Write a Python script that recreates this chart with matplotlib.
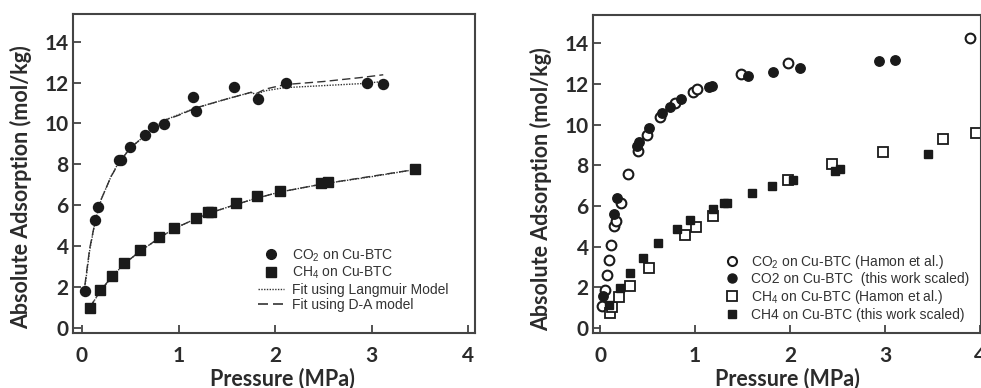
import matplotlib
matplotlib.use("Agg")
import matplotlib.pyplot as plt
from matplotlib.lines import Line2D

plt.rcParams['mathtext.fontset'] = 'custom'
plt.rcParams['mathtext.rm'] = 'Liberation Sans'
plt.rcParams['mathtext.it'] = 'Liberation Sans'

# ---------------- Left panel data ----------------
co2_p = [0.03, 0.14, 0.17, 0.38, 0.40, 0.50, 0.65, 0.74, 0.85, 1.15, 1.18, 1.57, 1.82, 2.11, 2.95, 3.12]
co2_q = [1.79, 5.30, 5.92, 8.23, 8.20, 8.85, 9.45, 9.81, 9.98, 11.30, 10.63, 11.78, 11.20, 11.98, 11.98, 11.95]

ch4_p = [0.08, 0.19, 0.31, 0.44, 0.60, 0.80, 0.95, 1.18, 1.30, 1.34, 1.60, 1.81, 2.05, 2.48, 2.55, 3.45]
ch4_q = [1.00, 1.84, 2.56, 3.18, 3.80, 4.45, 4.89, 5.38, 5.67, 5.67, 6.11, 6.44, 6.68, 7.09, 7.14, 7.78]

co2_fit_p = [0.03, 0.08, 0.14, 0.20, 0.30, 0.38, 0.50, 0.65, 0.75, 0.85, 1.00, 1.18, 1.50, 1.75, 1.80, 1.90, 2.10, 2.50, 2.90, 3.12]
co2_lang_q = [2.0, 3.8, 5.3, 6.3, 7.4, 8.1, 8.8, 9.4, 9.8, 10.15, 10.43, 10.76, 11.2, 11.52, 11.42, 11.6, 11.75, 11.85, 11.95, 12.05]
co2_da_q = [2.1, 3.9, 5.3, 6.3, 7.4, 8.05, 8.8, 9.4, 9.8, 10.15, 10.4, 10.76, 11.2, 11.52, 11.45, 11.68, 11.9, 12.05, 12.25, 12.38]

ch4_fit_p = [0.08, 0.19, 0.31, 0.44, 0.60, 0.80, 0.95, 1.18, 1.34, 1.60, 1.81, 2.05, 2.50, 3.00, 3.45]
ch4_lang_q = [1.00, 1.80, 2.50, 3.15, 3.75, 4.40, 4.85, 5.35, 5.65, 6.05, 6.35, 6.65, 7.05, 7.40, 7.75]
ch4_da_q = [1.00, 1.82, 2.52, 3.15, 3.75, 4.40, 4.85, 5.35, 5.65, 6.05, 6.35, 6.65, 7.05, 7.42, 7.75]

# ---------------- Right panel data ----------------
hco2_p = [0.025, 0.05, 0.07, 0.095, 0.12, 0.15, 0.17, 0.22, 0.29, 0.40, 0.49, 0.63, 0.79, 0.98, 1.02, 1.48, 1.98, 3.89]
hco2_q = [1.10, 1.88, 2.60, 3.36, 4.08, 5.03, 5.29, 6.14, 7.58, 8.73, 9.50, 10.40, 11.05, 11.63, 11.74, 12.49, 13.05, 14.29]

sco2_p = [0.035, 0.15, 0.18, 0.39, 0.41, 0.52, 0.65, 0.74, 0.85, 1.15, 1.18, 1.56, 1.82, 2.11, 2.94, 3.11]
sco2_q = [1.59, 5.60, 6.39, 8.96, 9.17, 9.82, 10.59, 10.89, 11.25, 11.84, 11.92, 12.40, 12.61, 12.80, 13.15, 13.21]

hch4_p = [0.10, 0.13, 0.20, 0.32, 0.52, 0.89, 1.01, 1.19, 1.98, 2.44, 2.98, 3.61, 3.96]
hch4_q = [0.74, 1.06, 1.51, 2.05, 2.98, 4.58, 4.99, 5.49, 7.29, 8.07, 8.65, 9.28, 9.58]

sch4_p = [0.09, 0.21, 0.32, 0.45, 0.61, 0.81, 0.95, 1.19, 1.30, 1.34, 1.60, 1.81, 2.03, 2.47, 2.53, 3.45]
sch4_q = [1.15, 1.96, 2.73, 3.47, 4.18, 4.86, 5.32, 5.85, 6.14, 6.17, 6.66, 6.99, 7.29, 7.75, 7.81, 8.55]

x_ticks = [0, 1, 2, 3, 4]
y_ticks = [0, 2, 4, 6, 8, 10, 12, 14]
xlabel = "Pressure (MPa)"
ylabel = "Absolute Adsorption (mol/kg)"

W, H = 981, 388
fig = plt.figure(figsize=(W / 100, H / 100), dpi=100)

def px_axes(l, t, r, b):
    return fig.add_axes([l / W, 1 - b / H, (r - l) / W, (b - t) / H])

axL = px_axes(73, 14, 475, 333)
axR = px_axes(593, 15, 981, 333)

ink = '#1a1a1a'
spine_c = '#444444'
label_font = dict(family='Lato', weight='bold', size=15.5, color='#2b2b2b')

for ax in (axL, axR):
    for s in ax.spines.values():
        s.set_linewidth(1.5)
        s.set_color(spine_c)
    ax.set_xticks(x_ticks)
    ax.set_yticks(y_ticks)
    ax.tick_params(direction='in', length=6, width=1.3, color=spine_c,
                   labelsize=15, labelcolor='#2b2b2b')
    ax.tick_params(axis='x', pad=9)
    ax.tick_params(axis='y', pad=3)
    for lab in ax.get_xticklabels() + ax.get_yticklabels():
        lab.set_fontfamily('Lato')
        lab.set_fontweight('bold')
    ax.set_xlabel(xlabel, fontdict=label_font)
    ax.set_ylabel(ylabel, fontdict=label_font)

axL.xaxis.set_label_coords(0.522, -0.108)
axL.yaxis.set_label_coords(-0.102, 0.458)
axR.xaxis.set_label_coords(0.5, -0.108)
axR.yaxis.set_label_coords(-0.106, 0.454)

axL.set_xlim(-0.093, 4.07)
axL.set_ylim(-0.24, 15.35)
axR.set_xlim(-0.074, 4.01)
axR.set_ylim(-0.24, 15.4)

# Left panel
axL.plot(co2_fit_p, co2_lang_q, linestyle=(0, (1, 1)), color='#333333', lw=1.0)
axL.plot(co2_fit_p, co2_da_q, linestyle=(0, (6, 3)), color='#333333', lw=1.0)
axL.plot(ch4_fit_p, ch4_lang_q, linestyle=(0, (1, 1)), color='#333333', lw=1.0)
axL.plot(ch4_fit_p, ch4_da_q, linestyle=(0, (6, 3)), color='#333333', lw=1.0)
axL.plot(co2_p, co2_q, 'o', color=ink, ms=7.2, mec=ink)
axL.plot(ch4_p, ch4_q, 's', color=ink, ms=6.5, mec=ink)

leg_font = dict(family='Liberation Sans', size=10)
handlesL = [
    Line2D([], [], marker='o', ls='none', color=ink, ms=7),
    Line2D([], [], marker='s', ls='none', color=ink, ms=6.5),
    Line2D([], [], ls=(0, (1, 1)), color='#333333', lw=1.0),
    Line2D([], [], ls=(0, (6, 3)), color='#333333', lw=1.2),
]
labelsL = ["CO$_2$ on Cu-BTC", "CH$_4$ on Cu-BTC", "Fit using Langmuir Model", "Fit using D-A model"]
legL = axL.legend(handlesL, labelsL, loc='upper left', bbox_to_anchor=(0.46, 0.269),
                  frameon=False, prop=leg_font, borderpad=0, borderaxespad=0,
                  handlelength=1.9, handletextpad=0.55, labelspacing=0.1)
for t in legL.get_texts():
    t.set_color('#333333')

# Right panel
axR.plot(hco2_p, hco2_q, 'o', mfc='white', mec=ink, mew=1.5, ms=7)
axR.plot(sco2_p, sco2_q, 'o', color=ink, ms=6.8)
axR.plot(hch4_p, hch4_q, 's', mfc='white', mec=ink, mew=1.3, ms=7)
axR.plot(sch4_p, sch4_q, 's', color=ink, ms=6.2)

handlesR = [
    Line2D([], [], marker='o', ls='none', mfc='white', mec=ink, mew=1.5, ms=6.5),
    Line2D([], [], marker='o', ls='none', color=ink, ms=6.5),
    Line2D([], [], marker='s', ls='none', mfc='white', mec=ink, mew=1.3, ms=6.5),
    Line2D([], [], marker='s', ls='none', color=ink, ms=6),
]
labelsR = ["CO$_2$ on Cu-BTC (Hamon et al.)", "CO2 on Cu-BTC  (this work scaled)",
           "CH$_4$ on Cu-BTC (Hamon et al.)", "CH4 on Cu-BTC (this work scaled)"]
legR = axR.legend(handlesR, labelsR, loc='upper left', bbox_to_anchor=(0.34, 0.253),
                  frameon=False, prop=leg_font, borderpad=0, borderaxespad=0,
                  handlelength=1.0, handletextpad=0.9, labelspacing=0.12)
for t in legR.get_texts():
    t.set_color('#333333')

fig.savefig('out.png', dpi=100)
